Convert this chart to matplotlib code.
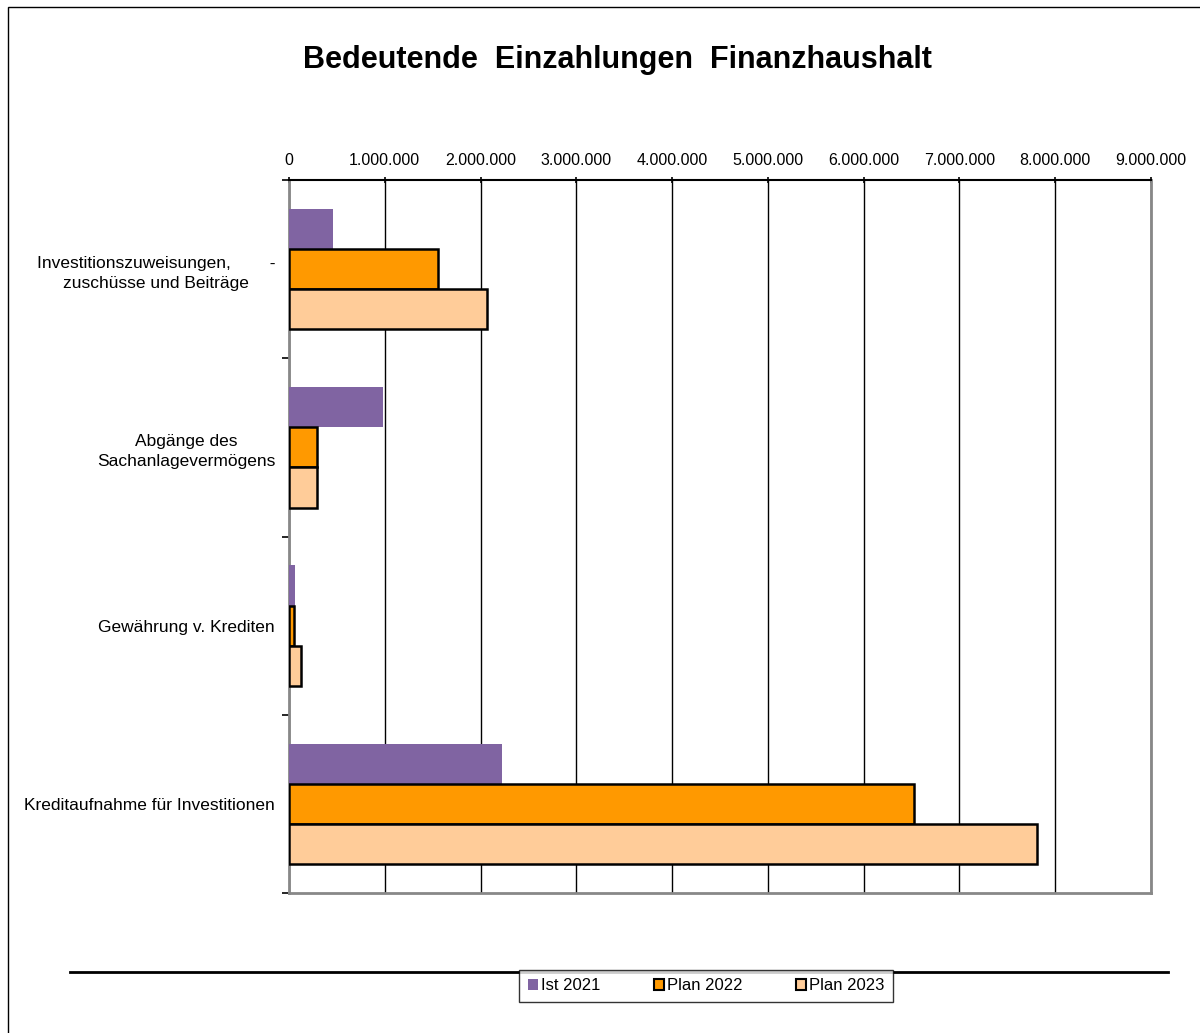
import matplotlib.pyplot as plt
import numpy as np
from matplotlib.patches import Patch, Rectangle
from matplotlib.lines import Line2D
from matplotlib.ticker import FuncFormatter

plt.rcParams['font.family'] = ['Liberation Sans', 'DejaVu Sans']

categories = ["Investitionszuweisungen,        -\nzuschüsse und Beiträge",
              "Abgänge des\nSachanlagevermögens",
              "Gewährung v. Krediten",
              "Kreditaufnahme für Investitionen"]
series = ["Ist 2021", "Plan 2022", "Plan 2023"]
ist_2021 = [460000, 980000, 60000, 2220000]
plan_2022 = [1555000, 290000, 50000, 6530000]
plan_2023 = [2065000, 290000, 130000, 7810000]
x_ticks = np.arange(0, 9000001, 1000000)

colors = ["#8064A2", "#FF9900", "#FFCC99"]
edges = ["none", "black", "black"]

fig = plt.figure(figsize=(12, 10.33), dpi=100)
ax = fig.add_axes([289 / 1200, 1 - 893 / 1033, 862 / 1200, 713 / 1033])

y = np.arange(len(categories))
h = 0.225
for i, (vals, c, e) in enumerate(zip([ist_2021, plan_2022, plan_2023], colors, edges)):
    ax.barh(y + (i - 1) * h, vals, height=h, color=c, edgecolor=e,
            linewidth=1.8 if e != "none" else 0, zorder=3, label=series[i])

ax.set_xlim(0, 9000000)
ax.set_ylim(3.5, -0.5)
ax.set_xticks(x_ticks)
ax.xaxis.set_major_formatter(FuncFormatter(lambda v, p: f"{int(v):,}".replace(",", ".")))
ax.xaxis.tick_top()
ax.tick_params(axis='x', length=5, width=1.2, labelsize=11.5, pad=6, direction='inout')
ax.grid(axis='x', color='black', linewidth=1, zorder=1)

ax.set_yticks(np.arange(-0.5, 4, 1))
ax.set_yticklabels([])
ax.tick_params(axis='y', which='major', length=5, width=1.2)
ax.set_yticks(y, minor=True)
ax.set_yticklabels(categories, minor=True, multialignment='center', fontsize=12.5, linespacing=1.45)
ax.tick_params(axis='y', which='minor', length=0, pad=10)

ax.spines['top'].set_color('black')
ax.spines['top'].set_linewidth(1.5)
for s in ['left', 'right', 'bottom']:
    ax.spines[s].set_color('#888888')
    ax.spines[s].set_linewidth(2)

fig.suptitle("Bedeutende  Einzahlungen  Finanzhaushalt", x=617 / 1200, y=1 - 60 / 1033,
             va='center', fontsize=22, fontweight='bold')

# outer frame and separator line
fig.add_artist(Rectangle((8 / 1200, -0.1), 1.2, 1 - 7 / 1033 + 0.1, transform=fig.transFigure,
                         fill=False, edgecolor='black', linewidth=1))
fig.add_artist(Line2D([70 / 1200, 1168 / 1200], [1 - 972 / 1033] * 2, transform=fig.transFigure,
                      color='black', linewidth=2))

handles = [Patch(facecolor=c, edgecolor=e, linewidth=1.5) for c, e in zip(colors, edges)]
leg = fig.legend(handles, series, loc='center', bbox_to_anchor=(706 / 1200, 1 - 986 / 1033),
                 ncol=3, frameon=True, fancybox=False, edgecolor='black', fontsize=12,
                 handlelength=0.6, handleheight=0.6, handletextpad=0.2, columnspacing=3.2,
                 borderpad=0.5, borderaxespad=0)
leg.get_frame().set_linewidth(1)
leg.set_zorder(5)

fig.savefig("out.png", dpi=100, facecolor='white')
